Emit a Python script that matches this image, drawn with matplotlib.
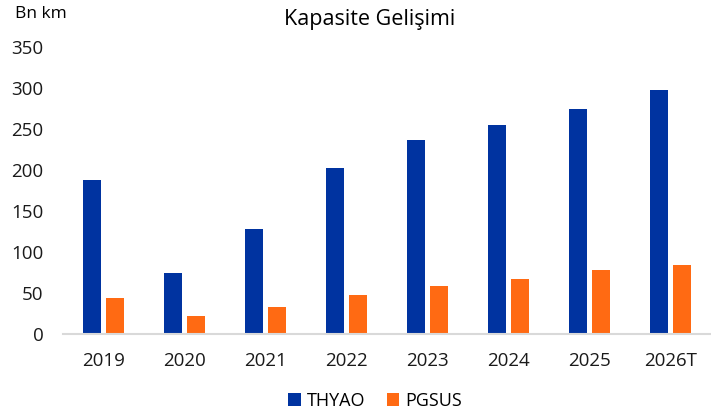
import matplotlib.pyplot as plt
import numpy as np

# Capacity data (Bn km)
years = ["2019", "2020", "2021", "2022", "2023", "2024", "2025", "2026T"]
thyao = [188, 74, 128, 202, 236, 255, 274, 297]
pgsus = [44, 22, 33, 48, 58, 67, 78, 84]

plt.rcParams['font.family'] = ['Open Sans', 'DejaVu Sans']

fig = plt.figure(figsize=(7.11, 4.17), dpi=100)
ax = fig.add_axes([63/711, 1 - 334/417, 648/711, (334 - 47)/417])

x = np.arange(len(years))
w = 0.22
ax.bar(x - 0.14, thyao, width=w, color="#0033A0", label="THYAO")
ax.bar(x + 0.14, pgsus, width=w, color="#FF6A13", label="PGSUS")

ax.set_xlim(-0.5, len(years) - 0.5)
ax.set_ylim(0, 350)
ax.set_yticks(range(0, 351, 50))
ax.set_xticks(x)
ax.set_xticklabels(years)
ax.tick_params(length=0, labelsize=13.5, colors="#1a1a1a")
ax.tick_params(axis="y", pad=14)
ax.tick_params(axis="x", pad=13)

for s in ["top", "right", "left"]:
    ax.spines[s].set_visible(False)
ax.spines["bottom"].set_color("#D9D9D9")
ax.spines["bottom"].set_linewidth(1.5)

fig.text(370/711, 1 - 20/417, "Kapasite Gelişimi", ha="center", va="center", fontsize=15.5)
fig.text(15/711, 1 - 14/417, "Bn km", ha="left", va="center", fontsize=12.5)

fig.legend(loc="center", bbox_to_anchor=(375/711, 1 - 401/417), ncol=2, frameon=False,
           fontsize=13, handlelength=0.7, handleheight=0.7, handletextpad=0.3, columnspacing=1.2)

plt.savefig("out.png", dpi=100)
